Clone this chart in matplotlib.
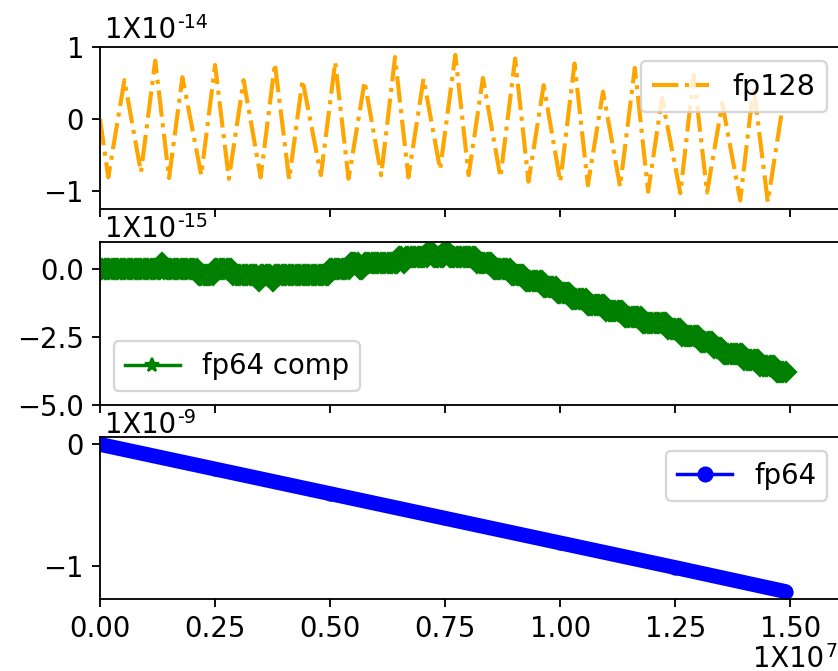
import matplotlib
matplotlib.use('Agg')
import numpy as np
import matplotlib.pyplot as plt
from matplotlib.lines import Line2D

DPI = 165
EPS = 2.22e-16

# fp128 error: turning points of the oscillation (x in 1e7 steps, y in 1e-14)
fp128_x = [0.000, 0.018, 0.053, 0.089, 0.120, 0.150, 0.179, 0.220, 0.250, 0.280,
           0.312, 0.349, 0.380, 0.411, 0.440, 0.480, 0.511, 0.540, 0.575, 0.611,
           0.641, 0.670, 0.703, 0.739, 0.772, 0.801, 0.832, 0.870, 0.902, 0.931,
           0.964, 1.000, 1.031, 1.060, 1.093, 1.130, 1.162, 1.191, 1.221, 1.261,
           1.290, 1.319, 1.352, 1.391, 1.420, 1.451, 1.482]
fp128_y = [0.00, -0.81, 0.54, -0.74, 0.81, -0.82, 0.58, -0.78, 0.75, -0.83,
           0.54, -0.81, 0.77, -0.84, 0.54, -0.78, 0.79, -0.83, 0.52, -0.78,
           0.86, -0.81, 0.56, -0.70, 0.89, -0.78, 0.57, -0.81, 0.84, -0.87,
           0.47, -0.87, 0.77, -0.92, 0.38, -0.94, 0.71, -1.01, 0.29, -1.03,
           0.61, -1.02, 0.22, -1.13, 0.45, -1.15, 0.125]

# compensated fp64 error: sampled every 5e4 steps, stored as runs of eps multiples
comp_step = 5e4
comp_level = [0, 1, 0, -1, 0, -1, -2, -1, -2, -1,
              0, 1, 0, 1, 2, 1, 2, 3, 2, 3,
              2, 1, 0, -1, -2, -3, -4, -5, -6, -7,
              -8, -9, -10, -11, -12, -13, -14, -15, -16, -17]
comp_runs = [27, 1, 15, 7, 8, 11, 1, 5, 1, 24,
             9, 4, 2, 15, 2, 1, 10, 2, 5, 2,
             12, 7, 8, 6, 8, 6, 6, 7, 8, 8,
             8, 11, 6, 8, 6, 4, 9, 7, 7, 5]

# plain fp64 error (x in 1e7 steps, y in 1e-9)
fp64_x = [0.00, 0.25, 0.50, 0.75, 1.00, 1.25, 1.49]
fp64_y = [0.000, -0.203, -0.406, -0.609, -0.812, -1.015, -1.213]

comp_y = np.repeat(comp_level, comp_runs) * EPS / 1e-15
comp_x = np.arange(len(comp_y)) * comp_step / 1e7

fig, axes = plt.subplots(3, 1, sharex=True, figsize=(838 / DPI, 671 / DPI), dpi=DPI)
W, H = 838.0, 671.0
rows = [(47, 209), (242, 405), (437, 599)]
for ax, (top, bot) in zip(axes, rows):
    ax.set_position([100 / W, 1 - bot / H, 741 / W, (bot - top) / H])


def sci_label(ax, exp, y):
    t = ax.text(0.007, y, '1X10', transform=ax.transAxes, fontsize=12,
                va='baseline', ha='left')
    ax.annotate(exp, xy=(1, 0), xycoords=t, xytext=(0.5, 6.8),
                textcoords='offset points', fontsize=8.3, va='baseline', ha='left')


# top: fp128
ax = axes[0]
ax.plot(fp128_x, fp128_y, color='orange', linestyle='-.', linewidth=1.8, label='fp128')
ax.set_ylim(-1.25, 1.0)
ax.set_yticks([-1, 0, 1])
ax.legend(loc='upper right', fontsize=12.5)
sci_label(ax, '-14', 1.056)

# middle: compensated fp64
ax = axes[1]
ax.plot(comp_x, comp_y, color='green', linestyle='none', marker='D', markersize=6)
ax.set_ylim(-5.0, 1.0)
ax.set_yticks([0.0, -2.5, -5.0])
h = Line2D([], [], color='green', marker='*', markersize=6, linewidth=1.5)
ax.legend([h], ['fp64 comp'], loc='lower left', fontsize=12)
sci_label(ax, '-15', 1.031)

# bottom: plain fp64
ax = axes[2]
ax.plot(fp64_x, fp64_y, color='blue', linewidth=6.5, solid_capstyle='round',
        marker='o', markersize=5.2)
ax.set_ylim(-1.274, 0.061)
ax.set_yticks([0, -1])
h = Line2D([], [], color='blue', marker='o', markersize=6, linewidth=1.5)
ax.legend([h], ['fp64'], loc='upper right', fontsize=12)
sci_label(ax, '-9', 1.025)

ax.set_xlim(0, 1.61)
ax.set_xticks([0, 0.25, 0.5, 0.75, 1.0, 1.25, 1.5])
ax.set_xticklabels(['0.00', '0.25', '0.50', '0.75', '1.00', '1.25', '1.50'])
for a in axes:
    a.tick_params(labelsize=12)

t = fig.text(753 / W, 4 / H, '1X10', fontsize=12, va='baseline', ha='left')
axes[2].annotate('7', xy=(1, 0), xycoords=t, xytext=(0.5, 6.8),
                 textcoords='offset points', fontsize=8.3, va='baseline', ha='left',
                 annotation_clip=False)

fig.savefig('out.png', dpi=DPI)
